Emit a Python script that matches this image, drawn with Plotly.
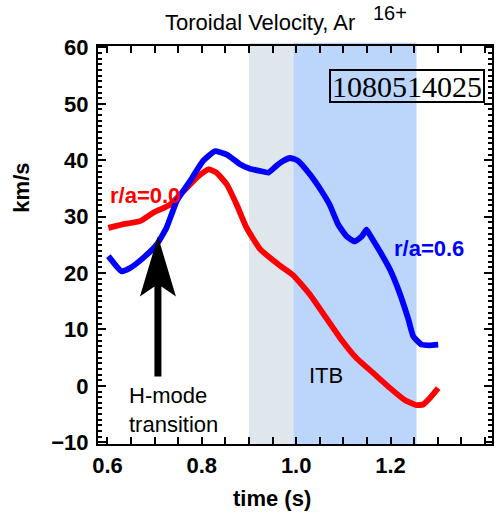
import plotly.graph_objects as go

# Toroidal rotation of Ar16+ measured at two radii, shot 1080514025
time_core = [0.602, 0.630, 0.669, 0.697, 0.732, 0.761, 0.789, 0.814, 0.831, 0.853,
             0.874, 0.895, 0.923, 0.966, 0.994, 1.029, 1.064, 1.093, 1.128, 1.163,
             1.199, 1.230, 1.255, 1.269, 1.283, 1.301]
v_core = [28.0, 28.6, 29.2, 30.7, 32.1, 34.5, 36.9, 38.4, 37.8, 35.7,
          32.1, 28.0, 24.3, 21.3, 19.6, 16.2, 12.0, 8.5, 4.9, 2.3,
          -0.4, -2.5, -3.4, -3.3, -2.2, -0.4]

time_mid = [0.602, 0.630, 0.648, 0.676, 0.704, 0.725, 0.747, 0.775, 0.803, 0.828,
            0.853, 0.881, 0.902, 0.923, 0.941, 0.958, 0.973, 0.987, 1.004, 1.029,
            1.054, 1.071, 1.089, 1.107, 1.124, 1.139, 1.149, 1.156, 1.177, 1.199,
            1.216, 1.237, 1.248, 1.266, 1.283, 1.301]
v_mid = [23.0, 20.3, 20.9, 22.7, 25.0, 28.0, 32.8, 36.3, 39.9, 41.6,
         41.0, 39.3, 38.5, 38.1, 37.8, 39.0, 39.9, 40.4, 39.9, 37.5,
         34.5, 32.1, 28.6, 26.5, 25.6, 26.5, 27.7, 26.8, 23.9, 20.6,
         17.2, 12.0, 8.8, 7.3, 7.2, 7.3]

# Time windows: pre-ITB phase and ITB phase
pre_itb = (0.900, 0.994)
itb = (0.994, 1.255)

# H-mode transition time and arrow extent
h_mode_time = 0.707
arrow_tip_v = 26.5

shot_number = "1080514025"

x_ticks = [0.6, 0.8, 1.0, 1.2, 1.4]
x_tick_text = ["0.6", "0.8", "1.0", "1.2", "1.4"]
y_ticks = [-10, 0, 10, 20, 30, 40, 50, 60]

RED = "rgb(255,0,0)"
BLUE = "rgb(0,0,255)"
SANS = "Liberation Sans, Arial, sans-serif"

fig = go.Figure()

fig.add_trace(go.Scatter(x=time_core, y=v_core, mode="lines",
                         line=dict(color=RED, width=5.8, shape="spline", smoothing=0.4),
                         showlegend=False, hoverinfo="skip"))
fig.add_trace(go.Scatter(x=time_mid, y=v_mid, mode="lines",
                         line=dict(color=BLUE, width=5.8, shape="spline", smoothing=0.4),
                         showlegend=False, hoverinfo="skip"))

# Shaded time windows
fig.add_shape(type="rect", xref="x", yref="paper", x0=pre_itb[0], x1=pre_itb[1],
              y0=0, y1=1.008, fillcolor="#dfe6ec", line_width=0, layer="below")
fig.add_shape(type="rect", xref="x", yref="paper", x0=itb[0], x1=itb[1],
              y0=0, y1=1.008, fillcolor="#bcd5fa", line_width=0, layer="below")

# H-mode arrow (filled barbed head with shaft), sized in pixels
head_half, head_len, notch, shaft_half, shaft_len = 18, 60, 50, 3.5, 140
arrow_path = (f"M0,0 L{head_half},{-head_len} L{shaft_half},{-notch} "
              f"L{shaft_half},{-shaft_len} L{-shaft_half},{-shaft_len} "
              f"L{-shaft_half},{-notch} L{-head_half},{-head_len} Z")
fig.add_shape(type="path", xref="x", yref="y", xsizemode="pixel", ysizemode="pixel",
              xanchor=h_mode_time, yanchor=arrow_tip_v, path=arrow_path,
              fillcolor="black", line_width=0)

# Labels
fig.add_annotation(x=0.601, y=33.8, xref="x", yref="y", text="r/a=0.0", showarrow=False,
                   xanchor="left", yanchor="middle",
                   font=dict(family=SANS, size=22, color=RED, weight="bold"))
fig.add_annotation(x=1.203, y=24.4, xref="x", yref="y", text="r/a=0.6", showarrow=False,
                   xanchor="left", yanchor="middle",
                   font=dict(family=SANS, size=22, color=BLUE, weight="bold"))
fig.add_annotation(x=1.023, y=1.9, xref="x", yref="y", text="ITB", showarrow=False,
                   xanchor="left", yanchor="middle",
                   font=dict(family=SANS, size=22, color="black"))
fig.add_annotation(x=0.641, y=-4.3, xref="x", yref="y", text="H-mode<br>transition",
                   showarrow=False, xanchor="left", yanchor="middle", align="left",
                   font=dict(family=SANS, size=22, color="black"))
fig.add_annotation(x=1.2357, y=53.2, xref="x", yref="y", text=shot_number, showarrow=False,
                   xanchor="center", yanchor="middle", width=150, height=28,
                   bordercolor="black", borderwidth=2, borderpad=1, bgcolor="rgba(0,0,0,0)",
                   font=dict(family="Liberation Serif, Times New Roman, serif", size=30,
                             color="black"))

# Title with ion charge state as a raised label
fig.add_annotation(x=0.165, y=1.058, xref="paper", yref="paper", text="Toroidal Velocity, Ar",
                   showarrow=False, xanchor="left", yanchor="middle",
                   font=dict(family=SANS, size=22, color="black"))
fig.add_annotation(x=0.694, y=1.082, xref="paper", yref="paper", text="16+",
                   showarrow=False, xanchor="left", yanchor="middle",
                   font=dict(family=SANS, size=20, color="black"))

# Axis titles
fig.add_annotation(x=-0.194, y=0.643, xref="paper", yref="paper", text="km/s",
                   showarrow=False, textangle=-90, xanchor="center", yanchor="middle",
                   font=dict(family=SANS, size=22, color="black", weight="bold"))
fig.add_annotation(x=0.4416, y=-0.136, xref="paper", yref="paper", text="time (s)",
                   showarrow=False, xanchor="center", yanchor="middle",
                   font=dict(family=SANS, size=22, color="black", weight="bold"))

tick_font = dict(family=SANS, size=22, color="black", weight="bold")

fig.update_xaxes(range=[0.58, 1.415], tickvals=x_ticks, ticktext=x_tick_text,
                 ticks="inside", ticklen=7, tickwidth=2, tickcolor="black",
                 minor=dict(dtick=0.05, tick0=0.6, ticks="inside", ticklen=7,
                            tickwidth=2, tickcolor="black", showgrid=False),
                 showline=True, linecolor="black", linewidth=2, mirror="ticks",
                 showgrid=False, zeroline=False, tickfont=tick_font, ticklabelstandoff=1,
                 automargin=False)
fig.update_yaxes(range=[-10.3, 60.25], tickvals=y_ticks,
                 ticks="inside", ticklen=8, tickwidth=2, tickcolor="black",
                 minor=dict(dtick=1, tick0=0, ticks="inside", ticklen=4,
                            tickwidth=1.5, tickcolor="black", showgrid=False),
                 showline=True, linecolor="black", linewidth=2, mirror="ticks",
                 showgrid=False, zeroline=False, tickfont=tick_font, ticklabelstandoff=3,
                 automargin=False)

fig.update_layout(width=500, height=516, margin=dict(l=98, r=8, t=46, b=72),
                  paper_bgcolor="white", plot_bgcolor="white", showlegend=False)

fig.write_html("out.html")
